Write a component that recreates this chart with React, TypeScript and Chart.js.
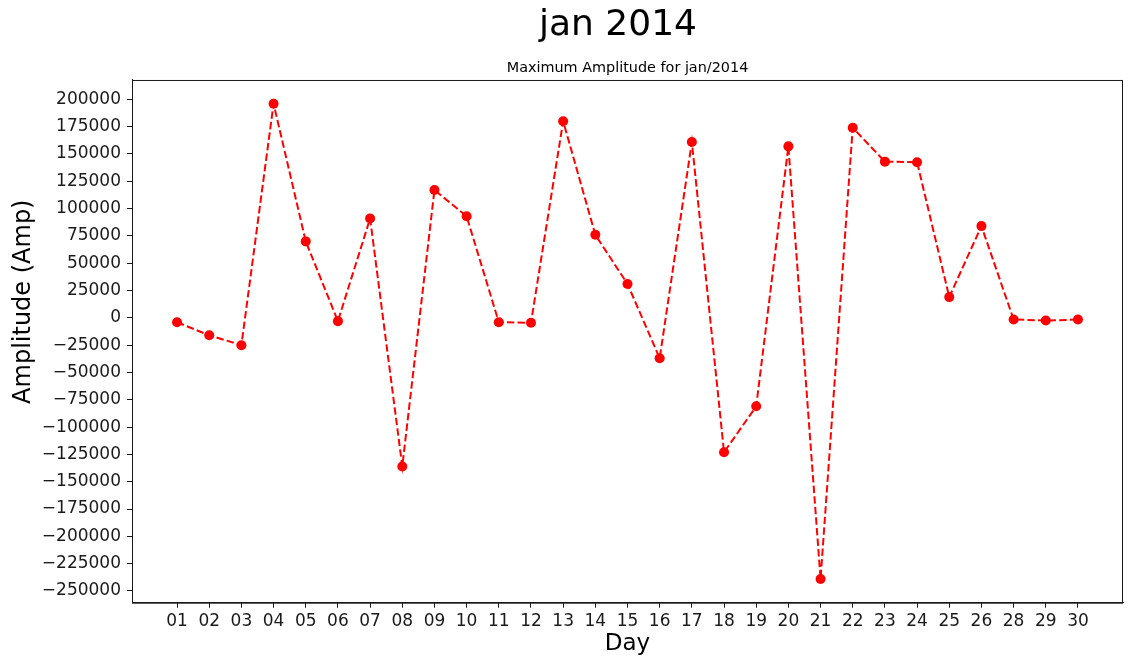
import React, { useEffect, useRef } from "react";
import { Chart, registerables } from "chart.js";

Chart.register(...registerables);

const days = ["01","02","03","04","05","06","07","08","09","10","11","12","13","14","15","16","17","18","19","20","21","22","23","24","25","26","28","29","30"];
const amplitudes = [-4000, -16000, -25000, 196000, 70000, -3000, 91000, -136000, 117000, 93000, -4000, -4500, 180000, 76000, 31000, -37000, 161000, -123000, -81000, 157000, -239000, 174000, 143000, 142500, 19000, 84000, -1500, -2500, -1500];
const yTicks = [-250000, -225000, -200000, -175000, -150000, -125000, -100000, -75000, -50000, -25000, 0, 25000, 50000, 75000, 100000, 125000, 150000, 175000, 200000];

const mainTitle = "jan 2014";
const subTitle = "Maximum Amplitude for jan/2014";
const xTitle = "Day";
const yTitle = "Amplitude (Amp)";

const FONT = "'DejaVu Sans', sans-serif";
const INK = "#1a1a1a";

const framePlugin = {
  id: "frame",
  afterDraw(chart: any) {
    const { ctx, chartArea } = chart;
    ctx.save();
    ctx.strokeStyle = INK;
    ctx.lineWidth = 1;
    ctx.strokeRect(chartArea.left + 0.5, chartArea.top + 0.5, chartArea.right - chartArea.left - 1, chartArea.bottom - chartArea.top);
    ctx.restore();
  },
};

// Figure-level title (centred like a matplotlib suptitle) and the y-axis label
const textPlugin = {
  id: "figureText",
  afterDraw(chart: any) {
    const { ctx } = chart;
    ctx.save();
    ctx.fillStyle = "#000";
    ctx.textAlign = "center";
    ctx.textBaseline = "middle";
    ctx.font = `36px ${FONT}`;
    ctx.fillText(mainTitle, 618, 25.5);
    ctx.translate(24, 301.7);
    ctx.rotate(-Math.PI / 2);
    ctx.font = `24px ${FONT}`;
    ctx.fillText(yTitle, 0, 0);
    ctx.restore();
  },
};

export default function App() {
  const ref = useRef<HTMLCanvasElement | null>(null);
  useEffect(() => {
    if (!ref.current) return;
    const n = days.length;
    const margin = (n - 1) * 0.05;
    const dMin = Math.min(...amplitudes);
    const dMax = Math.max(...amplitudes);
    const yMargin = (dMax - dMin) * 0.05;
    const chart = new Chart(ref.current, {
      type: "line",
      data: {
        datasets: [
          {
            data: amplitudes.map((v, i) => ({ x: i, y: v })),
            borderColor: "#ff0000",
            backgroundColor: "#ff0000",
            borderWidth: 2,
            borderDash: [7.4, 3.2],
            pointRadius: 5,
            pointBorderWidth: 0,
            pointBackgroundColor: "#ff0000",
            pointBorderColor: "#ff0000",
            tension: 0,
            fill: false,
          },
        ],
      },
      options: {
        responsive: false,
        animation: false,
        events: [],
        layout: { padding: { left: 0, right: 1, top: 0, bottom: 0 } },
        plugins: {
          legend: { display: false },
          tooltip: { enabled: false },
          title: { display: false },
          subtitle: {
            display: true,
            fullSize: false,
            text: subTitle,
            color: "#000",
            font: { family: FONT, size: 14.4, weight: "normal" },
            padding: { top: 59.9, bottom: 2.8 },
          },
        },
        scales: {
          x: {
            type: "linear",
            min: -margin,
            max: n - 1 + margin,
            afterBuildTicks: (scale: any) => {
              scale.ticks = days.map((_, i) => ({ value: i }));
            },
            afterFit: (scale: any) => {
              scale.height = 56.3;
            },
            ticks: {
              autoSkip: false,
              maxRotation: 0,
              minRotation: 0,
              padding: 4,
              color: INK,
              font: { family: FONT, size: 17 },
              callback: (v: any) => days[Math.round(Number(v))] ?? "",
            },
            grid: { display: true, drawOnChartArea: false, drawTicks: true, tickLength: 5, color: INK },
            border: { display: true, color: INK },
            title: {
              display: true,
              text: xTitle,
              color: "#000",
              font: { family: FONT, size: 23 },
              padding: { top: 0, bottom: 1 },
            },
          },
          y: {
            type: "linear",
            min: dMin - yMargin,
            max: dMax + yMargin,
            afterBuildTicks: (scale: any) => {
              scale.ticks = yTicks.map((v) => ({ value: v }));
            },
            afterFit: (scale: any) => {
              scale.width = 132;
            },
            ticks: {
              padding: 6,
              color: INK,
              font: { family: FONT, size: 17 },
              callback: (v: any) => {
                const num = Number(v);
                return num < 0 ? "\u2212" + String(Math.abs(num)) : String(num);
              },
            },
            grid: { display: true, drawOnChartArea: false, drawTicks: true, tickLength: 5, color: INK },
            border: { display: true, color: INK },
            title: { display: false },
          },
        },
      },
      plugins: [framePlugin, textPlugin],
    });
    return () => chart.destroy();
  }, []);

  return (
    <div style={{ position: "fixed", left: 0, top: 0, width: 1128, height: 659, background: "#fff" }}>
      <canvas ref={ref} width={1128} height={659} style={{ display: "block" }} />
    </div>
  );
}
